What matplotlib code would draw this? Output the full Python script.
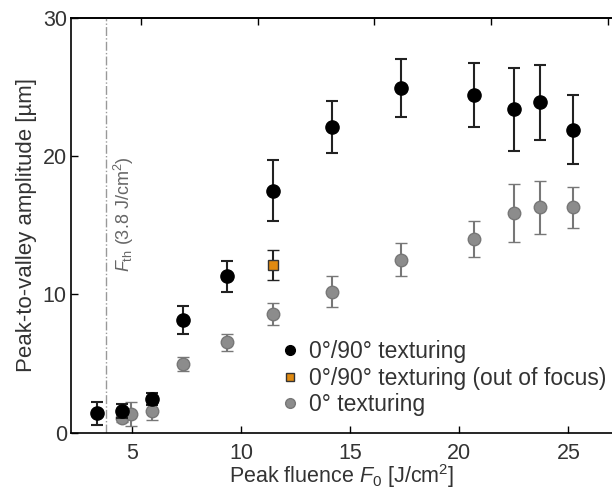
import numpy as np
import matplotlib
matplotlib.use('Agg')
import matplotlib.pyplot as plt
from matplotlib.lines import Line2D

plt.rcParams['font.family'] = ['Liberation Sans', 'DejaVu Sans']
plt.rcParams['mathtext.fontset'] = 'custom'
plt.rcParams['mathtext.it'] = 'Liberation Sans:italic'
plt.rcParams['mathtext.rm'] = 'Liberation Sans'

# Datos
x_cruz = [3.38, 4.53, 5.93, 7.34, 9.37, 11.45, 14.15, 17.34, 20.66, 22.5, 23.7, 25.2]
y_cruz = [1.4, 1.6, 2.45, 8.15, 11.3, 17.5, 22.1, 24.9, 24.4, 23.4, 23.9, 21.9]
e_cruz = [0.8, 0.5, 0.45, 1.0, 1.1, 2.2, 1.9, 2.1, 2.3, 3.0, 2.7, 2.5]

x_foco = [11.45]
y_foco = [12.15]
e_foco = [1.1]

x_cero = [4.53, 4.93, 5.93, 7.34, 9.37, 11.45, 14.15, 17.34, 20.66, 22.5, 23.7, 25.2]
y_cero = [1.08, 1.35, 1.55, 4.95, 6.55, 8.58, 10.2, 12.5, 14.0, 15.9, 16.3, 16.3]
e_cero = [0.3, 0.85, 0.6, 0.5, 0.6, 0.8, 1.1, 1.2, 1.3, 2.1, 1.9, 1.5]

F_th = 3.8
top_ticks = [5.41, 10.76, 16.11, 21.46, 26.81]

texto = '#333333'
gris = '#8c8c8c'

fig = plt.figure(figsize=(6.12, 4.93), dpi=100)
ax = fig.add_axes([0.116, 0.122, 0.884, 0.842])

ax.axvline(F_th, color='#999999', lw=1.0, ls='-.', zorder=1)

ax.errorbar(x_cero, y_cero, yerr=e_cero, fmt='o', ms=9, mfc=gris, mec='#777777', mew=1.0,
            ecolor='#777777', elinewidth=1.5, capsize=4, capthick=1.5, zorder=2)
ax.errorbar(x_cruz, y_cruz, yerr=e_cruz, fmt='o', ms=9.5, mfc='black', mec='black',
            ecolor='#222222', elinewidth=1.5, capsize=4, capthick=1.5, zorder=3)
ax.errorbar(x_foco, y_foco, yerr=e_foco, fmt='s', ms=7.5, mfc='#e08a10', mec='#333333', mew=1.0,
            ecolor='#222222', elinewidth=1.5, capsize=4, capthick=1.5, zorder=4)

ax.text(4.62, 20.0, r'$F_{\rm th}$ (3.8 J/cm$^2$)', rotation=90, color='#666666',
        fontsize=13, ha='center', va='top')

ax.set_xlim(2.2, 27.0)
ax.set_ylim(0, 30)
ax.set_xticks([5, 10, 15, 20, 25])
ax.set_yticks([0, 10, 20, 30])
ax.tick_params(direction='in', length=5, width=1, labelsize=15.5, colors='black',
               labelcolor=texto)
ax.tick_params(axis='x', pad=7)
ax.tick_params(axis='y', pad=3)
ax.spines['right'].set_visible(False)
for s in ['left', 'bottom', 'top']:
    ax.spines[s].set_linewidth(1.2)

sec = ax.secondary_xaxis('top')
sec.set_xticks(top_ticks)
sec.set_xticklabels([])
sec.tick_params(direction='in', length=5, width=1)
sec.spines['top'].set_linewidth(1.2)

ax.set_xlabel(r'Peak fluence $F_{\rm 0}$ [J/cm$^2$]', fontsize=15.5, color=texto, labelpad=-1)
ax.set_ylabel('Peak-to-valley amplitude [µm]', fontsize=16, color=texto, labelpad=4)

handles = [
    Line2D([], [], ls='none', marker='o', ms=7, mfc='black', mec='black'),
    Line2D([], [], ls='none', marker='s', ms=6, mfc='#e08a10', mec='#333333'),
    Line2D([], [], ls='none', marker='o', ms=7, mfc=gris, mec='#777777'),
]
etiquetas = ['0°/90° texturing', '0°/90° texturing (out of focus)', '0° texturing']
leg = ax.legend(handles, etiquetas, loc='lower left', bbox_to_anchor=(0.376, 0.018),
                frameon=False, fontsize=16.5, handlelength=0.6, handletextpad=0.5,
                labelspacing=0.15, borderaxespad=0)
for t in leg.get_texts():
    t.set_color(texto)

fig.savefig('out.png', dpi=100)
